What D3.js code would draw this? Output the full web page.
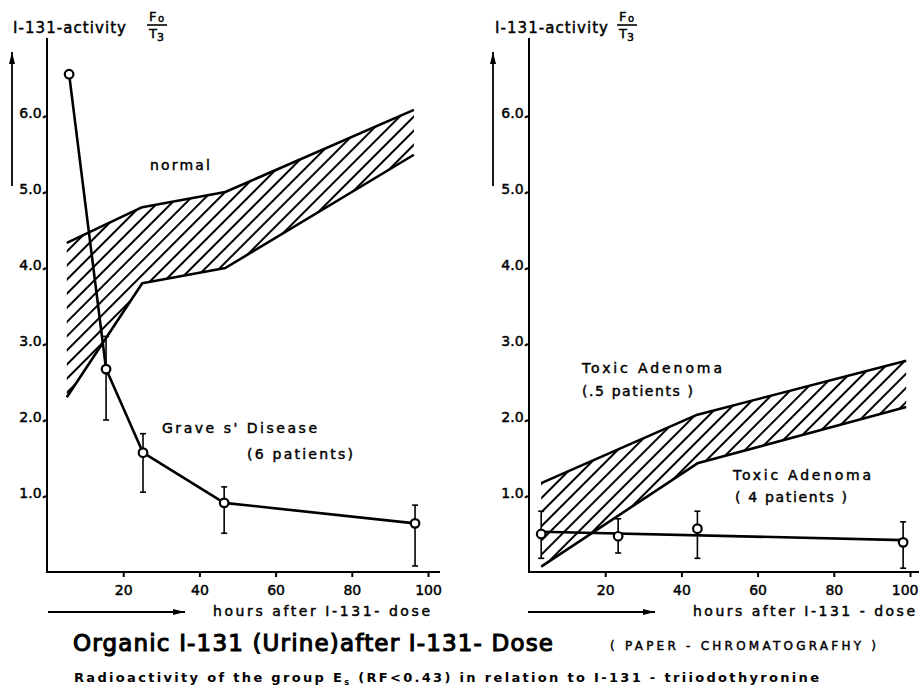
<!DOCTYPE html>
<head>
<meta charset="utf-8">
<script src="https://d3js.org/d3.v7.min.js"></script>
<style>
  body { margin: 0; background: #fff; }
  svg { font-family: "DejaVu Sans", sans-serif; fill: #000; }
  svg text { stroke: #000; stroke-width: 0.45px; }
  .axis path, .axis line { stroke: #000; stroke-width: 2px; }
  .axis text { font-family: "DejaVu Sans", sans-serif; font-size: 14px; fill: #000; }
  .curve { fill: none; stroke: #000; stroke-width: 2.6px; stroke-linejoin: round; }
  .edge { fill: none; stroke: #000; stroke-width: 2.6px; stroke-linejoin: round; }
  .err { stroke: #000; stroke-width: 1.6px; }
  .dot { fill: #fff; stroke: #000; stroke-width: 2.2px; }
</style>
</head>
<body>
<div id="vis"></div>
<script>
// ---- data ----
var hoursTicks = [20, 40, 60, 80, 100];
var activityTicks = [1, 2, 3, 4, 5, 6];

// left panel: Grave's disease (6 patients), mean with spread
var gravesHours = [5.8, 15.5, 25.2, 46.5, 96.6];
var gravesMean  = [6.55, 2.67, 1.57, 0.91, 0.64];
var gravesLow   = [null, 2.0, 1.05, 0.51, 0.08];
var gravesHigh  = [null, 3.1, 1.82, 1.12, 0.88];

// left panel: normal range (hatched band)
var normalHours = [5.2, 25, 46.8, 96.3];
var normalUpper = [4.33, 4.80, 5.00, 6.08];
var normalLower = [2.30, 3.80, 4.00, 5.49];

// right panel: toxic adenoma (5 patients) band
var adenoma5Hours = [3.2, 44.2, 99];
var adenoma5Upper = [1.17, 2.07, 2.78];
var adenoma5Lower = [0.07, 1.43, 2.17];

// right panel: toxic adenoma (4 patients), points + straight line
var adenoma4Hours = [3.2, 23.4, 44.2, 98.2];
var adenoma4Mean  = [0.50, 0.47, 0.57, 0.39];
var adenoma4Low   = [0.18, 0.25, 0.18, 0.05];
var adenoma4High  = [0.80, 0.70, 0.80, 0.66];
var adenoma4LineHours = [3.2, 98.2];
var adenoma4LineVals  = [0.53, 0.42];

var width = 919, height = 688;

var svg = d3.select("#vis").append("svg")
    .attr("width", width)
    .attr("height", height);

// hatch pattern
svg.append("defs").append("pattern")
    .attr("id", "hatch")
    .attr("patternUnits", "userSpaceOnUse")
    .attr("width", 10).attr("height", 10)
    .attr("patternTransform", "rotate(45)")
  .append("line")
    .attr("x1", 5).attr("y1", 0).attr("x2", 5).attr("y2", 10)
    .attr("stroke", "#000").attr("stroke-width", 2);

var y = d3.scaleLinear().domain([0, 6]).range([572, 116]);
var xL = d3.scaleLinear().domain([0, 103]).range([47, 47 + 103 * 3.81]);
var xR = d3.scaleLinear().domain([0, 103]).range([529, 529 + 103 * 3.81]);

function zip(xs, ys) { return xs.map(function(d, i) { return [d, ys[i]]; }); }

function drawAxes(x, x0, xEnd, arrowX, hArrow) {
    // x axis
    var gx = svg.append("g").attr("class", "axis")
        .attr("transform", "translate(0,572)")
        .call(d3.axisBottom(x).tickValues(hoursTicks).tickSize(5).tickSizeOuter(0).tickPadding(8));
    gx.select(".domain").remove();
    gx.append("line").attr("x1", x0 - 1).attr("x2", xEnd).attr("y1", 0).attr("y2", 0)
        .attr("stroke", "#000").attr("stroke-width", 2);

    // y axis
    var gy = svg.append("g").attr("class", "axis")
        .attr("transform", "translate(" + x0 + ",0)")
        .call(d3.axisLeft(y).tickValues(activityTicks).tickSize(3).tickPadding(2)
            .tickFormat(function(d) { return d3.format(".1f")(d) + "."; }));
    gy.select(".domain").remove();
    gy.selectAll("text").attr("dy", "0.1em").attr("x", -1);
    gy.selectAll("line").attr("stroke-width", 1.5);
    gy.append("line").attr("x1", 0).attr("x2", 0).attr("y1", 573).attr("y2", 38)
        .attr("stroke", "#000").attr("stroke-width", 2);

    // direction arrows
    arrow(arrowX, 186, arrowX, 52);
    arrow(hArrow[0], 612, hArrow[1], 612);
    return gx;
}

function arrow(x1, y1, x2, y2) {
    svg.append("line").attr("x1", x1).attr("y1", y1).attr("x2", x2).attr("y2", y2)
        .attr("stroke", "#000").attr("stroke-width", 1.8);
    var a = Math.atan2(y2 - y1, x2 - x1), L = 12, w = 3;
    var p = [[x2, y2],
             [x2 - L * Math.cos(a) + w * Math.sin(a), y2 - L * Math.sin(a) - w * Math.cos(a)],
             [x2 - L * Math.cos(a) - w * Math.sin(a), y2 - L * Math.sin(a) + w * Math.cos(a)]];
    svg.append("path").attr("d", "M" + p.join("L") + "Z").attr("fill", "#000");
}

function band(x, hours, upper, lower) {
    var area = d3.area().x(function(d) { return x(d[0]); })
        .y0(function(d) { return y(d[1]); }).y1(function(d) { return y(d[2]); });
    var rows = hours.map(function(h, i) { return [h, lower[i], upper[i]]; });
    svg.append("path").datum(rows).attr("d", area).attr("fill", "url(#hatch)");
    var line = d3.line().x(function(d) { return x(d[0]); }).y(function(d) { return y(d[1]); });
    svg.append("path").attr("class", "edge").attr("d", line(zip(hours, upper)));
    svg.append("path").attr("class", "edge").attr("d", line(zip(hours, lower)));
}

function points(x, hours, mean, low, high) {
    hours.forEach(function(h, i) {
        var lo = low[i] == null ? mean[i] : low[i];
        var hi = high[i] == null ? mean[i] : high[i];
        if (lo === hi) return;
        var cx = x(h);
        svg.append("line").attr("class", "err").attr("x1", cx).attr("x2", cx).attr("y1", y(lo)).attr("y2", y(hi));
        [lo, hi].forEach(function(v) {
            svg.append("line").attr("class", "err").attr("x1", cx - 3).attr("x2", cx + 3).attr("y1", y(v)).attr("y2", y(v));
        });
    });
    svg.selectAll(null).data(zip(hours, mean)).enter().append("circle")
        .attr("class", "dot")
        .attr("cx", function(d) { return x(d[0]); })
        .attr("cy", function(d) { return y(d[1]); })
        .attr("r", 4.3);
}

function label(x, yy, txt, size, len) {
    var t = svg.append("text").attr("x", x).attr("y", yy).attr("font-size", size).text(txt);
    if (len) t.attr("textLength", len).attr("lengthAdjust", "spacing");
    return t;
}

function yTitle(x0, fx) {
    label(x0, 33, "I-131-activity", 15, 113);
    label(fx + 1, 21, "F", 13);
    label(fx + 10, 22, "o", 10);
    svg.append("line").attr("x1", fx - 1).attr("x2", fx + 19).attr("y1", 25).attr("y2", 25)
        .attr("stroke", "#000").attr("stroke-width", 1.6);
    label(fx + 1, 38, "T", 13);
    label(fx + 9, 41, "3", 11);
}

// ---------- left panel ----------
drawAxes(xL, 47, 440, 12, [48, 185]);
band(xL, normalHours, normalUpper, normalLower);
var lineG = d3.line().x(function(d) { return xL(d[0]); }).y(function(d) { return y(d[1]); });
points(xL, gravesHours, gravesMean, gravesLow, gravesHigh);
svg.insert("path", ".dot").attr("class", "curve").attr("d", lineG(zip(gravesHours, gravesMean)));
yTitle(13, 148);
label(150, 170, "normal", 14, 60);
label(162, 433, "Grave s'  Disease", 14, 155);
label(247, 459, "(6 patients)", 14, 106);
label(213, 616, "hours  after  I-131- dose", 14, 217);

// ---------- right panel ----------
var gxR = drawAxes(xR, 529, 919, 493, [528, 655]);
// last tick label sits at the picture edge: keep it inside
gxR.selectAll(".tick text").filter(function(d) { return d === 100; })
    .attr("text-anchor", "end").attr("x", 918 - xR(100));
band(xR, adenoma5Hours, adenoma5Upper, adenoma5Lower);
var lineA = d3.line().x(function(d) { return xR(d[0]); }).y(function(d) { return y(d[1]); });
svg.append("path").attr("class", "curve").attr("d", lineA(zip(adenoma4LineHours, adenoma4LineVals)));
points(xR, adenoma4Hours, adenoma4Mean, adenoma4Low, adenoma4High);
yTitle(495, 618);
label(582, 373, "Toxic  Adenoma", 14, 140);
label(582, 396, "(.5 patients )", 14, 111);
label(733, 480, "Toxic  Adenoma", 14, 138);
label(735, 502, "( 4 patients )", 14, 112);
label(693, 616, "hours  after  I-131 - dose", 14, 222);

// ---------- captions ----------
label(73, 651, "Organic  I-131  (Urine)after  I-131- Dose", 23, 480).style("stroke-width", "1.1px");
label(610, 650, "( PAPER - CHROMATOGRAFHY )", 12, 266);
var cap = svg.append("text").attr("x", 74).attr("y", 682).attr("font-size", 13).attr("font-weight", "bold")
    .style("stroke-width", "0px");
cap.append("tspan").text("Radioactivity  of  the  group  E");
cap.append("tspan").attr("font-size", 8).attr("dy", 3).text("s");
cap.append("tspan").attr("dy", -3).text(" (RF<0.43)  in  relation  to  I-131 -  triiodothyronine");
cap.attr("textLength", 745).attr("lengthAdjust", "spacing");
</script>
</body>
